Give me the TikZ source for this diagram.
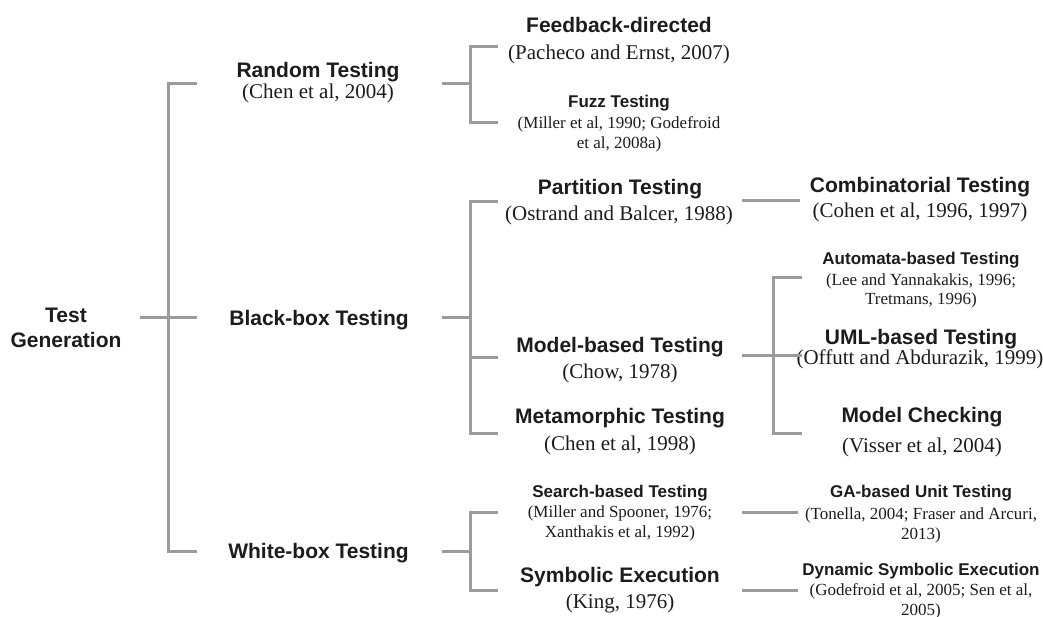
\documentclass[tikz,border=0pt]{standalone}
\usepackage{fontspec}
\setmainfont{Liberation Serif}
\newfontfamily\hsans{Liberation Sans}
\definecolor{ln}{RGB}{155,155,155}
\definecolor{tx}{RGB}{28,28,28}
\begin{document}
\begin{tikzpicture}[x=1pt,y=-1pt,
  hd/.style={font=\hsans\bfseries\fontsize{21}{25}\selectfont, anchor=base, inner sep=0pt, text=tx},
  hs/.style={font=\hsans\bfseries\fontsize{17}{20}\selectfont, anchor=base, inner sep=0pt, text=tx},
  ct/.style={font=\fontsize{21}{25}\selectfont, anchor=base, inner sep=0pt, text=tx},
  cs/.style={font=\fontsize{17}{20}\selectfont, anchor=base, inner sep=0pt, text=tx},
  br/.style={draw=ln, line width=3pt, line cap=butt, line join=miter}]
\useasboundingbox (0,0) rectangle (1043,617);

% ---- text nodes ----
\node[hd] (tg1) at (66,322) {Test};
\node[hd] (tg2) at (66,347) {Generation};

\node[hd] (rt) at (318,78) {Random Testing};
\node[ct] (rtc) at (318,99) {(Chen et al, 2004)};
\node[hd] (bb) at (319,325) {Black-box Testing};
\node[hd] (wb) at (318.5,558) {White-box Testing};

\node[hd] (fd) at (619,33) {Feedback-directed};
\node[ct] (fdc) at (619,60) {(Pacheco and Ernst, 2007)};
\node[hs] (fz) at (619,108) {Fuzz Testing};
\node[cs] (fzc1) at (619,129) {(Miller et al, 1990; Godefroid};
\node[cs] (fzc2) at (619,149) {et al, 2008a)};

\node[hd] (pt) at (620,195) {Partition Testing};
\node[ct] (ptc) at (619,221) {(Ostrand and Balcer, 1988)};
\node[hd] (mb) at (620,352) {Model-based Testing};
\node[ct] (mbc) at (620,378) {(Chow, 1978)};
\node[hd] (mt) at (620,423) {Metamorphic Testing};
\node[ct] (mtc) at (620,450) {(Chen et al, 1998)};

\node[hs] (sb) at (620,497) {Search-based Testing};
\node[cs] (sbc1) at (620,517) {(Miller and Spooner, 1976;};
\node[cs] (sbc2) at (620,537) {Xanthakis et al, 1992)};
\node[hd] (se) at (620,582) {Symbolic Execution};
\node[ct] (sec) at (620,608) {(King, 1976)};

\node[hd] (ct) at (920,193) {Combinatorial Testing};
\node[ct] (ctc) at (920,218) {(Cohen et al, 1996, 1997)};
\node[hs] (ab) at (921,265) {Automata-based Testing};
\node[cs] (abc1) at (921,286) {(Lee and Yannakakis, 1996;};
\node[cs] (abc2) at (921,305) {Tretmans, 1996)};
\node[hd] (ub) at (921,344) {UML-based Testing};
\node[ct] (ubc) at (920,364) {(Offutt and Abdurazik, 1999)};
\node[hd] (mc) at (922,422) {Model Checking};
\node[ct] (mcc) at (922,452) {(Visser et al, 2004)};

\node[hs] (ga) at (921,497) {GA-based Unit Testing};
\node[cs] (gac1) at (921,519) {(Tonella, 2004; Fraser and Arcuri,};
\node[cs] (gac2) at (921,539) {2013)};
\node[hs] (ds) at (921,575) {Dynamic Symbolic Execution};
\node[cs] (dsc1) at (921,595) {(Godefroid et al, 2005; Sen et al,};
\node[cs] (dsc2) at (921,615) {2005)};

% ---- bracket coordinates ----
\coordinate (tgL) at (140,317);
\coordinate (tgM) at (197,317);
\coordinate (tgT) at (197,84);
\coordinate (tgTc) at (168,84);
\coordinate (tgBc) at (168,551);
\coordinate (tgB) at (197,551);

\coordinate (rtL) at (442,84);
\coordinate (rtV) at (470,84);
\coordinate (rtT) at (498,47);
\coordinate (rtTc) at (470,47);
\coordinate (rtBc) at (470,123);
\coordinate (rtB) at (498,123);

\coordinate (bbL) at (442,317);
\coordinate (bbV) at (470,317);
\coordinate (bbT) at (498,202);
\coordinate (bbTc) at (470,202);
\coordinate (bbBc) at (470,433);
\coordinate (bbB) at (498,433);
\coordinate (bbMc) at (470,357);
\coordinate (bbM) at (498,357);

\coordinate (wbL) at (442,551);
\coordinate (wbV) at (470,551);
\coordinate (wbT) at (498,512);
\coordinate (wbTc) at (470,512);
\coordinate (wbBc) at (470,590);
\coordinate (wbB) at (498,590);

\coordinate (ptR) at (742,201);
\coordinate (ctL) at (800,201);

\coordinate (mbR) at (742,355);
\coordinate (mbV) at (773,355);
\coordinate (mbM) at (802,355);
\coordinate (mbT) at (802,278);
\coordinate (mbTc) at (773,278);
\coordinate (mbBc) at (773,433);
\coordinate (mbB) at (802,433);

\coordinate (sbR) at (742,512);
\coordinate (gaL) at (798,512);
\coordinate (seR) at (742,590);
\coordinate (dsL) at (798,590);

% ---- connectors ----
\draw[br] (tgL) -- (tgM);
\draw[br] (tgT) -- (tgTc) -- (tgBc) -- (tgB);

\draw[br] (rtL) -- (rtV);
\draw[br] (rtT) -- (rtTc) -- (rtBc) -- (rtB);

\draw[br] (bbL) -- (bbV);
\draw[br] (bbT) -- (bbTc) -- (bbBc) -- (bbB);
\draw[br] (bbMc) -- (bbM);

\draw[br] (wbL) -- (wbV);
\draw[br] (wbT) -- (wbTc) -- (wbBc) -- (wbB);

\draw[br] (ptR) -- (ctL);

\draw[br] (mbR) -- (mbM);
\draw[br] (mbT) -- (mbTc) -- (mbBc) -- (mbB);

\draw[br] (sbR) -- (gaL);
\draw[br] (seR) -- (dsL);
\end{tikzpicture}
\end{document}
